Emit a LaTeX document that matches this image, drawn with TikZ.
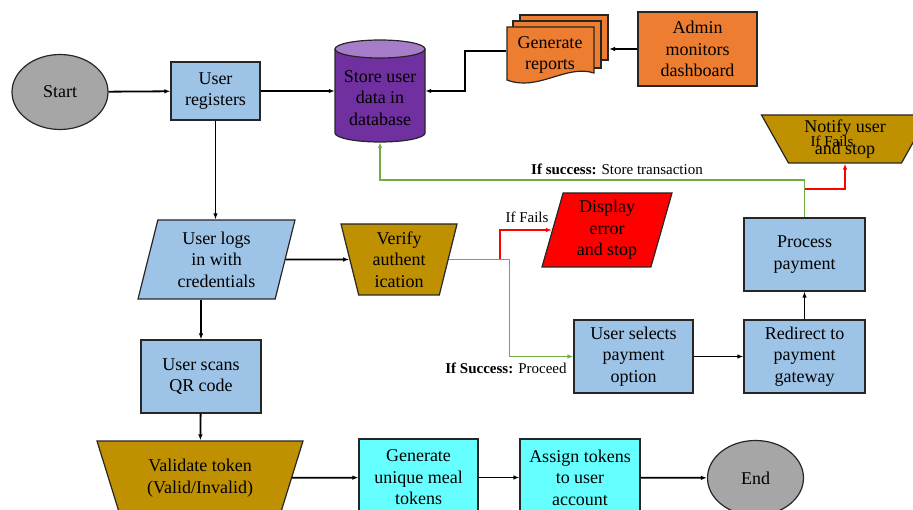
\documentclass[tikz,border=0pt]{standalone}
\usepackage{fontspec}
\setmainfont{Liberation Serif}
\usetikzlibrary{shapes.geometric, arrows.meta}
\definecolor{boxblue}{HTML}{9DC3E6}
\definecolor{termgray}{HTML}{A6A6A6}
\definecolor{dbpurple}{HTML}{7030A0}
\definecolor{dbtop}{HTML}{A77DC9}
\definecolor{reportorange}{HTML}{ED7D31}
\definecolor{checkgold}{HTML}{BF9000}
\definecolor{tokencyan}{HTML}{66FFFF}
\definecolor{okgreen}{HTML}{70AD47}
\definecolor{failred}{HTML}{FF0000}

\begin{document}
\begin{tikzpicture}[x=1pt, y=-1pt,
  every node/.style={font=\fontsize{18}{21.5}\selectfont, align=center, inner sep=1pt},
  outline/.style={draw=black!85, line width=1.2pt},
  term/.style={outline, ellipse, fill=termgray, minimum width=96pt, minimum height=75pt},
  process/.style={outline, rectangle, fill=boxblue},
  io/.style={outline, trapezium, trapezium left angle=71, trapezium right angle=109,
    trapezium stretches body, fill=boxblue},
  check/.style={outline, trapezium, shape border rotate=180, trapezium stretches body, fill=checkgold},
  arr/.style={-{Latex[length=6pt,width=4.5pt]}, line width=1.8pt},
  ok/.style={arr, draw=okgreen},
  fail/.style={arr, draw=failred},
  lbl/.style={font=\fontsize{15}{18}\selectfont}]
\useasboundingbox (0,0) rectangle (913,510);
\clip (0,0) rectangle (913,510);

% database cylinder and report pages
\draw[outline, fill=dbpurple] (335,49) -- (335,133)
  arc[start angle=180, end angle=360, x radius=45pt, y radius=9pt] -- (425,49);
\draw[outline, fill=dbtop] (380,49) ellipse [x radius=45pt, y radius=9pt];
\draw[outline, fill=reportorange] (520,15) rectangle (608,60);
\draw[outline, fill=reportorange] (513,21) rectangle (601,68);
\draw[outline, fill=reportorange] (507,27) -- (594,27) -- (594,73)
  .. controls (566,64) and (538,92) .. (507,80) -- cycle;

\node[term] (start) at (60,92) {Start};
\node[process, minimum width=89pt, minimum height=58pt] (reg) at (215.5,91) {User\\registers};
\node[minimum width=90pt, minimum height=88pt] (db) at (380,98) {Store user\\data in\\database};
\node[minimum width=87pt, minimum height=50pt] (rep) at (550,55) {Generate\\reports};
\coordinate (repback) at (609,49);
\node[outline, fill=reportorange, minimum width=119pt, minimum height=74pt] (admin) at (697.5,49) {Admin\\monitors\\dashboard};
\node[check, trapezium left angle=56, trapezium right angle=56, minimum width=167pt, minimum height=48pt] (notify) at (845,139) {Notify user\\and stop};
\node[io, fill=failred, minimum width=130pt, minimum height=74pt] (err) at (607,230) {Display\\error\\and stop};
\node[io, minimum width=157pt, minimum height=79pt] (logs) at (216.5,259.5) {User logs\\in with\\credentials};
\node[check, trapezium left angle=73, trapezium right angle=73, minimum width=116pt, minimum height=71pt] (verify) at (399,259.5) {Verify\\authent\\ication};
\node[process, minimum width=119pt, minimum height=73pt] (sel) at (633.5,356.5) {User selects\\payment\\option};
\node[process, minimum width=121pt, minimum height=73pt] (redir) at (804.5,356.5) {Redirect to\\payment\\gateway};
\node[process, minimum width=121pt, minimum height=73pt] (proc) at (804.5,254.5) {Process\\payment};
\node[process, minimum width=120pt, minimum height=73pt] (scan) at (201,376.5) {User scans\\QR code};
\node[check, trapezium left angle=60, trapezium right angle=60, minimum width=206pt, minimum height=74pt] (valid) at (200,478) {Validate token\\(Valid/Invalid)};
\node[process, fill=tokencyan, minimum width=119pt, minimum height=77pt] (gen) at (418.5,477.5) {Generate\\unique meal\\tokens};
\node[process, fill=tokencyan, minimum width=120pt, minimum height=77pt] (assign) at (580,477.5) {Assign tokens\\to user\\account};
\node[term] (end) at (755.5,478) {End};
\coordinate (failsplit) at (500,259.5);

\draw[arr] (start) -- (reg);
\draw[arr] (reg) -- (reg -| db.west);
\draw[arr] (admin.west) -- (repback);
\draw[arr] ([yshift=4pt]rep.west) -- ++(-41,0) |- (reg -| db.east);
\draw[arr] (reg) -- (reg |- logs.north);
\draw[arr] (logs) -- (verify);
\draw[arr] (scan.north |- logs.south) -- (scan.north);
\draw[arr] (scan) -- (valid);
\draw[arr] (valid) -- (gen);
\draw[arr] (gen) -- (assign);
\draw[arr] (assign) -- (end);
\draw[arr] (sel) -- (redir);
\draw[arr] (redir) -- (proc);
\draw[fail] (failsplit) |- (err);
\draw[ok] (verify) -| ([xshift=-64pt]sel.west) -- (sel);
\draw[ok] (proc.north) -- ++(0,-37) -| (db);
\draw[fail] ([yshift=28pt]proc.north) -| (notify);

\node[lbl] (storelbl) at (617,169) {\textbf{If success:} Store transaction};
\node[lbl] (faillbl) at (527,217) {If Fails};
\node[lbl] (proceedlbl) at (506,368) {\textbf{If Success:} Proceed};
\node[lbl] (notifylbl) at (832,141) {If Fails};
\end{tikzpicture}
\end{document}
